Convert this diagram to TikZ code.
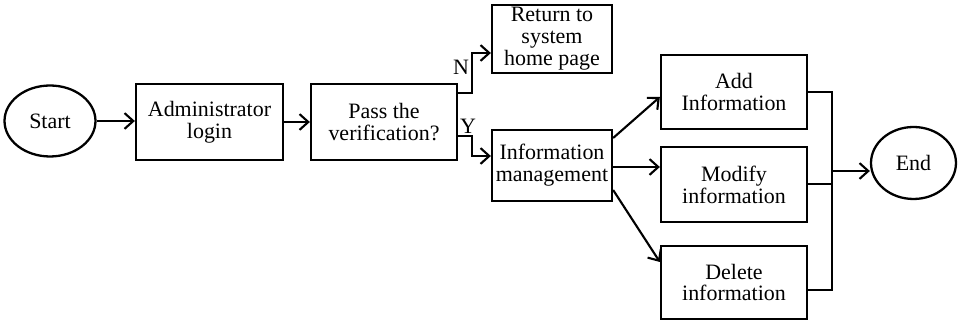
\documentclass[tikz,border=0pt]{standalone}
\usepackage{fontspec}
\setmainfont{Liberation Serif}
\usetikzlibrary{arrows.meta, shapes.geometric}

\begin{document}
\begin{tikzpicture}[
    x=0.02cm, y=-0.02cm,
    font=\fontsize{12.5}{12.5}\selectfont,
    %% Obdĺžnik kroku
    box/.style={
        draw=black, line width=1.3pt, fill=white,
        align=center, inner sep=0pt
    },
    %% Ovál pre začiatok a koniec
    oval/.style={
        ellipse, draw=black, line width=1.3pt, fill=white, inner sep=0pt
    },
    %% Spojnica so šípkou
    arr/.style={draw=black, line width=1.2pt, -{Straight Barb[length=5pt, width=9pt, line width=1.2pt]}},
    %% Spojnica bez šípky
    wire/.style={draw=black, line width=1.2pt},
    %% Vetva rozhodnutia
    branchlbl/.style={inner sep=0pt}
]

\useasboundingbox (0,0) rectangle (958,323);

%% ══════════════════════════════════════════════════════════════════
%% Uzly
%% ══════════════════════════════════════════════════════════════════
\node[oval, minimum width=1.82cm, minimum height=1.42cm] (start) at (50,121) {Start};
\node[box, minimum width=2.94cm, minimum height=1.52cm] (admin) at (209.5,122)
    {Administrator\\login};
\node[box, minimum width=2.92cm, minimum height=1.52cm] (pass) at (384,122)
    {Pass the\\verification?};
\node[box, minimum width=2.40cm, minimum height=1.36cm] (ret) at (552,39)
    {Return to\\system\\home page};
\node[box, minimum width=2.40cm, minimum height=1.42cm] (info) at (552,165.5)
    {Information\\management};

%% Operácie nad informáciami
\foreach \n/\y/\h/\txt in {add/92/1.48/{Add\\Information},
                           modify/184.5/1.50/{Modify\\information},
                           delete/282.5/1.46/{Delete\\information}} {
    \node[box, minimum width=2.92cm, minimum height=\h cm] (\n) at (734,\y) {\txt};
}

\node[oval, minimum width=1.70cm, minimum height=1.44cm] (end) at (913.5,163) {End};

%% ══════════════════════════════════════════════════════════════════
%% Spojnice
%% ══════════════════════════════════════════════════════════════════
\draw[arr] (start.east) -- (start.east -| admin.west);
\draw[arr] (admin.east) -- (admin.east -| pass.west);

%% Rozhodnutie: N hore, Y dole
\coordinate (split) at (472,0);
\draw[arr] (pass.east |- 0,93) -| (split |- 0,73) |- (ret.west |- 0,53);
\draw[arr] (pass.east |- 0,136) -| (split |- 0,146) |- (info.west |- 0,156);
\node[branchlbl] (nlbl) at (461,67) {N};
\node[branchlbl] (ylbl) at (468,126) {Y};

%% Vetvenie do operácií
\draw[arr] ([yshift=0.55cm]info.east) -- ([yshift=-0.1cm]add.west);
\draw[arr] ([yshift=-0.03cm]info.east) -- ([yshift=-0.03cm]info.east -| modify.west);
\draw[arr] ([yshift=-0.49cm]info.east) -- ([yshift=0.41cm]delete.west);

%% Zlúčenie do konca
\coordinate (merge) at (832,171);
\draw[wire] (add.east) -| (merge);
\draw[wire] ([yshift=-0.15cm]delete.east) -| (merge);
\draw[wire] ([yshift=0.01cm]modify.east) -- ([yshift=0.01cm]modify.east -| merge);
\draw[arr] (merge) -- (merge -| end.west);

\end{tikzpicture}
\end{document}
